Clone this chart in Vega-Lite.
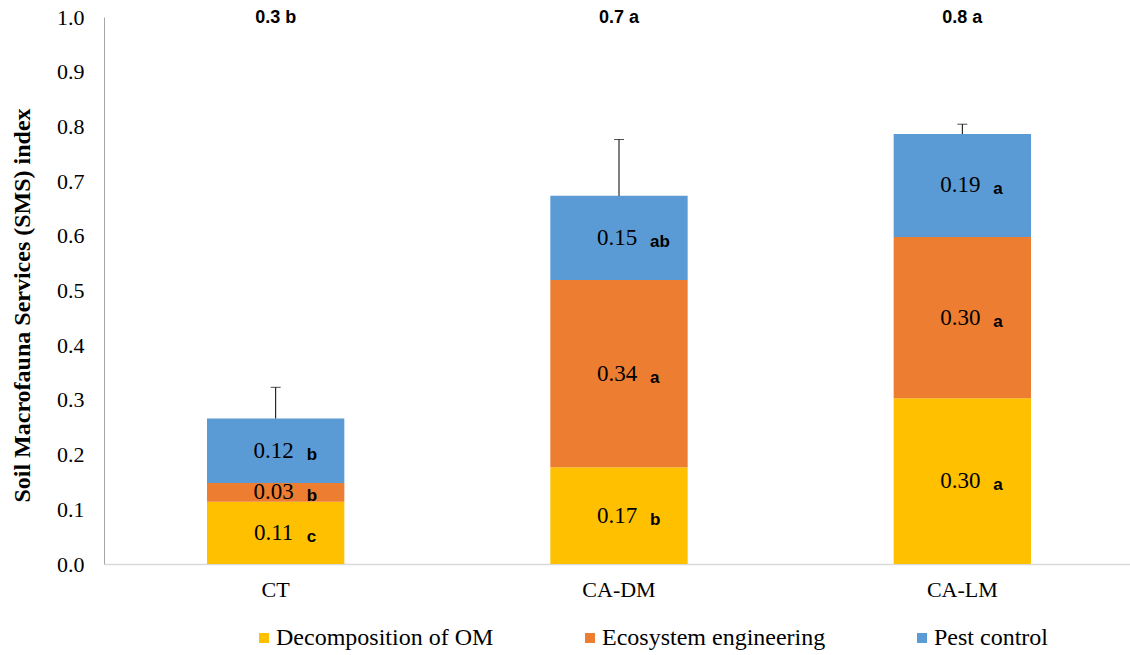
{
  "$schema": "https://vega.github.io/schema/vega-lite/v6.json",
  "autosize": {"type": "none"},
  "padding": {"left": 104, "top": 17, "right": 0, "bottom": 91},
  "width": 1030,
  "height": 547,
  "background": "white",
  "config": {"view": {"stroke": null}},
  "datasets": {
    "seg": [
      {"treatment": "CT", "component": "Decomposition of OM", "value": 0.114, "num": "0.11", "grp": "c"},
      {"treatment": "CT", "component": "Ecosystem engineering", "value": 0.034, "num": "0.03", "grp": "b"},
      {"treatment": "CT", "component": "Pest control", "value": 0.118, "num": "0.12", "grp": "b"},
      {"treatment": "CA-DM", "component": "Decomposition of OM", "value": 0.177, "num": "0.17", "grp": "b"},
      {"treatment": "CA-DM", "component": "Ecosystem engineering", "value": 0.342, "num": "0.34", "grp": "a"},
      {"treatment": "CA-DM", "component": "Pest control", "value": 0.154, "num": "0.15", "grp": "ab"},
      {"treatment": "CA-LM", "component": "Decomposition of OM", "value": 0.303, "num": "0.30", "grp": "a"},
      {"treatment": "CA-LM", "component": "Ecosystem engineering", "value": 0.295, "num": "0.30", "grp": "a"},
      {"treatment": "CA-LM", "component": "Pest control", "value": 0.188, "num": "0.19", "grp": "a"}
    ],
    "tot": [
      {"treatment": "CT", "total": 0.266, "upper": 0.323, "label": "0.3 b"},
      {"treatment": "CA-DM", "total": 0.673, "upper": 0.776, "label": "0.7 a"},
      {"treatment": "CA-LM", "total": 0.786, "upper": 0.804, "label": "0.8 a"}
    ]
  },
  "layer": [
    {
      "data": {"name": "seg"},
      "mark": {"type": "bar"},
      "encoding": {
        "x": {
          "field": "treatment", "type": "nominal", "sort": ["CT", "CA-DM", "CA-LM"],
          "scale": {"paddingInner": 0.6, "paddingOuter": 0.3},
          "axis": {
            "title": null, "labelAngle": 0, "ticks": false, "labelPadding": 15,
            "labelFont": "Liberation Serif", "labelFontSize": 22, "labelColor": "#000000",
            "domainColor": "#d9d9d9", "domainWidth": 1.5, "grid": false
          }
        },
        "y": {
          "field": "value", "type": "quantitative", "stack": "zero",
          "scale": {"domain": [0, 1], "nice": false},
          "axis": {
            "title": "Soil Macrofauna Services (SMS) index",
            "titleFont": "Liberation Serif", "titleFontSize": 24, "titleFontWeight": "bold",
            "titleColor": "#000000", "titleX": -82, "titleY": 288, "titleAngle": -90,
            "titleAlign": "center", "titleBaseline": "middle",
            "values": [0, 0.1, 0.2, 0.3, 0.4, 0.5, 0.6, 0.7, 0.8, 0.9, 1.0],
            "format": ".1f", "ticks": false, "labelPadding": 20, "grid": false,
            "labelFont": "Liberation Serif", "labelFontSize": 22, "labelColor": "#000000",
            "domainColor": "#a6a6a6", "domainWidth": 1
          }
        },
        "color": {
          "field": "component", "type": "nominal",
          "scale": {
            "domain": ["Decomposition of OM", "Ecosystem engineering", "Pest control"],
            "range": ["#FFC000", "#ED7D31", "#5B9BD5"]
          },
          "legend": {
            "title": null, "orient": "none", "direction": "horizontal", "columns": 3,
            "legendX": 148, "legendY": 609,
            "symbolType": "square", "symbolSize": 100, "symbolStrokeWidth": 0,
            "labelFont": "Liberation Serif", "labelFontSize": 24, "labelColor": "#000000",
            "labelOffset": 0, "columnPadding": 84, "labelLimit": 400
          }
        },
        "order": {"field": "component", "sort": "ascending"}
      }
    },
    {
      "data": {"name": "tot"},
      "mark": {"type": "rule", "color": "#000000", "strokeWidth": 1},
      "encoding": {
        "x": {"field": "treatment", "type": "nominal", "sort": ["CT", "CA-DM", "CA-LM"]},
        "y": {"field": "total", "type": "quantitative"},
        "y2": {"field": "upper"}
      }
    },
    {
      "data": {"name": "tot"},
      "mark": {"type": "tick", "color": "#000000", "size": 10, "thickness": 1},
      "encoding": {
        "x": {"field": "treatment", "type": "nominal", "sort": ["CT", "CA-DM", "CA-LM"]},
        "y": {"field": "upper", "type": "quantitative"}
      }
    },
    {
      "data": {"name": "seg"},
      "transform": [
        {"stack": "value", "groupby": ["treatment"], "sort": [{"field": "component", "order": "ascending"}], "as": ["v0", "v1"]},
        {"calculate": "(datum.v0 + datum.v1) / 2", "as": "mid"}
      ],
      "mark": {"type": "text", "font": "Liberation Serif", "fontSize": 23, "color": "#000000", "align": "center", "baseline": "middle", "dx": -2},
      "encoding": {
        "x": {"field": "treatment", "type": "nominal", "sort": ["CT", "CA-DM", "CA-LM"]},
        "y": {"field": "mid", "type": "quantitative"},
        "text": {"field": "num"}
      }
    },
    {
      "data": {"name": "seg"},
      "transform": [
        {"stack": "value", "groupby": ["treatment"], "sort": [{"field": "component", "order": "ascending"}], "as": ["v0", "v1"]},
        {"calculate": "(datum.v0 + datum.v1) / 2", "as": "mid"}
      ],
      "mark": {"type": "text", "font": "Liberation Sans", "fontWeight": "bold", "fontSize": 17, "color": "#000000", "align": "left", "baseline": "middle", "dx": 31, "dy": 4},
      "encoding": {
        "x": {"field": "treatment", "type": "nominal", "sort": ["CT", "CA-DM", "CA-LM"]},
        "y": {"field": "mid", "type": "quantitative"},
        "text": {"field": "grp"}
      }
    },
    {
      "data": {"name": "tot"},
      "mark": {"type": "text", "font": "Liberation Sans", "fontWeight": "bold", "fontSize": 18, "color": "#000000", "align": "center", "baseline": "middle", "dy": 1},
      "encoding": {
        "x": {"field": "treatment", "type": "nominal", "sort": ["CT", "CA-DM", "CA-LM"]},
        "y": {"datum": 1},
        "text": {"field": "label"}
      }
    }
  ]
}
